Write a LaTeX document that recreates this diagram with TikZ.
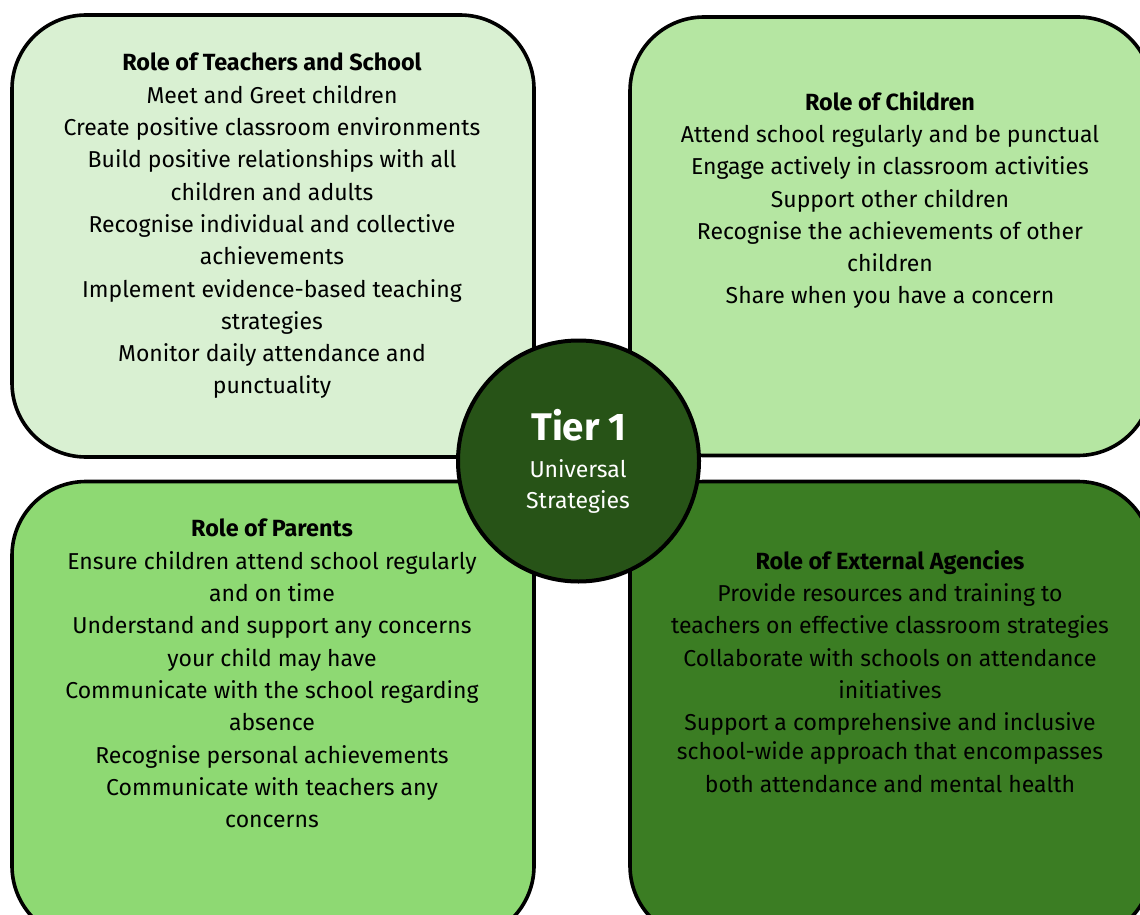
\documentclass[tikz,border=0pt]{standalone}
\usepackage{fontspec}
\setmainfont{Fira Sans}
\definecolor{cA}{HTML}{D9F0D2}
\definecolor{cB}{HTML}{B5E6A2}
\definecolor{cC}{HTML}{8ED973}
\definecolor{cD}{HTML}{3B7D23}
\definecolor{cE}{HTML}{275317}
\tikzset{
  panel/.style={draw=black,line width=3.6pt,rounded corners=74pt},
  body/.style={font=\fontsize{23}{32.3}\selectfont,align=center,inner sep=0pt,text=black,anchor=north},
}
\newcommand{\hd}[1]{{\bfseries\fontsize{23.4}{32.3}\selectfont #1}}
\begin{document}
\begin{tikzpicture}[x=1pt,y=-1pt]
\useasboundingbox (0,0) rectangle (1140,915);
\fill[white] (0,0) rectangle (1140,915);
\begin{scope}
\clip (0,0) rectangle (1140,915);
\draw[panel,fill=cA] (12,15) rectangle (534,457);
\draw[panel,fill=cB] (630,17) rectangle (1152,455.5);
\draw[panel,fill=cC] (12,481.5) rectangle (534,940);
\draw[panel,fill=cD] (630,481.5) rectangle (1152,940);
\end{scope}
\node[circle,draw=black,line width=4pt,fill=cE,minimum size=241pt,inner sep=0pt] (hub) at (578.5,461) {};
\node[font=\fontsize{38.5}{40}\selectfont\bfseries,text=white,inner sep=0pt] (t1) at (579,425) {Tier 1};
\node[font=\fontsize{23}{31.5}\selectfont,text=white,align=center,inner sep=0pt,anchor=north] (t2) at (578,459) {Universal\\Strategies};
\node[body] (a) at (272,53) {\hd{Role of Teachers and School}\\Meet and Greet children\\Create positive classroom environments\\Build positive relationships with all\\children and adults\\Recognise individual and collective\\achievements\\Implement evidence-based teaching\\strategies\\Monitor daily attendance and\\punctuality};
\node[body] (b) at (890,91) {\hd{Role of Children}\\Attend school regularly and be punctual\\Engage actively in classroom activities\\Support other children\\Recognise the achievements of other\\children\\Share when you have a concern};
\node[body] (c) at (272,519) {\hd{Role of Parents}\\Ensure children attend school regularly\\and on time\\Understand and support any concerns\\your child may have\\Communicate with the school regarding\\absence\\Recognise personal achievements\\Communicate with teachers any\\concerns};
\node[body] (d) at (890,550) {\hd{Role of External Agencies}\\Provide resources and training to\\teachers on effective classroom strategies\\Collaborate with schools on attendance\\initiatives\\Support a comprehensive and inclusive\\[-3pt]school-wide approach that encompasses\\both attendance and mental health};
\end{tikzpicture}
\end{document}
